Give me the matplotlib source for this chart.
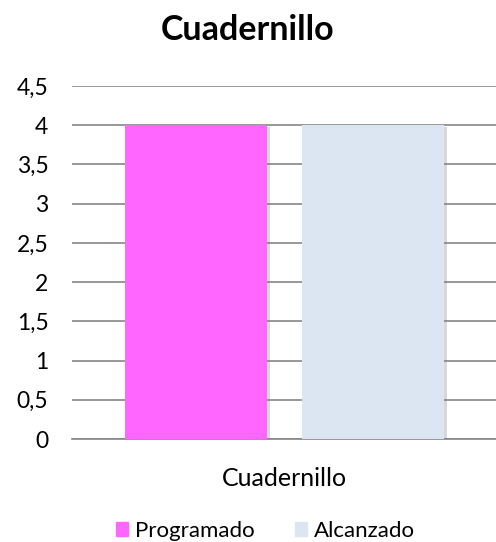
import matplotlib.pyplot as plt
import matplotlib.patheffects as pe
from matplotlib.ticker import FuncFormatter

categories = ['Cuadernillo']
series_names = ['Programado', 'Alcanzado']
programado = [4]
alcanzado = [4]
colors = ['#FF66FF', '#DCE6F2']

plt.rcParams['font.family'] = ['Lato', 'DejaVu Sans']

fig = plt.figure(figsize=(4.96, 5.42), dpi=100)
ax = fig.add_axes([0.1452, 0.19, 0.857, 0.6513])

width = 0.334
gap = 0.082
offsets = [-(width + gap) / 2, (width + gap) / 2]
shadow = [pe.SimplePatchShadow(offset=(2, -1.5), shadow_rgbFace='gray', alpha=0.3), pe.Normal()]

for vals, off, col, name in zip([programado, alcanzado], offsets, colors, series_names):
    xs = [i + off for i in range(len(categories))]
    bars = ax.bar(xs, vals, width=width, color=col, label=name, zorder=3)
    for b in bars:
        b.set_path_effects(shadow)

ax.set_xlim(-0.5, 0.5)
ax.set_ylim(0, 4.5)
ax.set_yticks([i * 0.5 for i in range(10)])
ax.yaxis.set_major_formatter(FuncFormatter(lambda v, p: ('%g' % v).replace('.', ',')))
ax.grid(axis='y', color='#868686', linewidth=1.2, zorder=0)
ax.set_xticks(range(len(categories)))
ax.set_xticklabels(categories)
for s in ['top', 'right', 'left']:
    ax.spines[s].set_visible(False)
ax.spines['bottom'].set_color('#868686')
ax.spines['bottom'].set_linewidth(1.2)
ax.tick_params(axis='both', length=0)
ax.tick_params(axis='y', pad=17, labelsize=16.5)
ax.tick_params(axis='x', pad=20, labelsize=18)

fig.suptitle('Cuadernillo', x=0.5, y=0.974, fontsize=24.5, fontweight='bold')

handles = [plt.Rectangle((0, 0), 1, 1, color=c) for c in colors]
fig.legend(handles, series_names, loc='lower center', bbox_to_anchor=(0.535, -0.035), ncol=2,
           frameon=False, fontsize=16, handlelength=0.55, handleheight=0.55, handletextpad=0.3, columnspacing=1.8)

fig.savefig('out.png', dpi=100)
